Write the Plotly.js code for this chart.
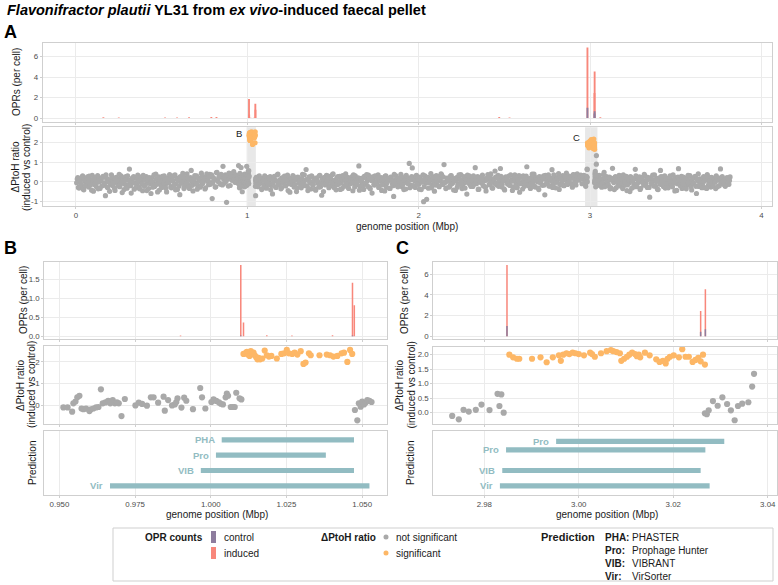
<!DOCTYPE html>
<html><head><meta charset="utf-8">
<script src="https://cdn.plot.ly/plotly-3.0.1.min.js"></script>
<style>html,body{margin:0;padding:0;background:#fff}#chart{width:778px;height:585px}</style>
</head><body><div id="chart"></div>
<script>
// ---------------- DATA ----------------
const oprPos = [0.16,0.25,0.52,0.59,0.66,0.79,0.82,0.99,1.0099,1.0108,1.0185,1.0268,1.0402,1.0468,1.0474,2.47,2.53,2.9848,3.0258,3.0268,3.06];
const oprInduced = [0.08,0.06,0.07,0.05,0.08,0.12,0.1,0.02,1.876,0.36,0.03,0.02,0.03,1.41,0.82,0.1,0.07,6.9,2.45,4.55,0.08];
const oprControl = [0,0,0,0,0,0,0,0,0.02,0,0,0,0,0.02,0,0,0,1.0,0.45,0.68,0];

const ptohStep = 0.007;
const ptohA1_start = 0.004, ptohA2_start = 1.056, ptohA3_start = 3.04;
const ptohA1b_start = 0.0075, ptohA2b_start = 1.0595, ptohA3b_start = 3.0435;
const ptohA1 = [-.05,.21,-.32,.08,-.18,.3,-.41,.02,-.12,.25,
-.27,.11,-.06,.33,-.48,-.15,.19,-.02,-.36,.14,
.05,-.22,.28,-.09,-.71,.17,-.3,.07,-.14,.36,
-.19,.01,-.44,.23,-.08,.12,-.25,.31,-.55,.04,
-.11,.26,-.33,.09,.65,-.2,.15,-.04,-.38,.2,
-.13,.34,-.27,-.01,.18,-.46,.1,-.16,.27,-.07,
-.35,.13,-.6,.22,-.03,-.24,.39,-.12,.06,-.42,
.16,-.29,.03,.3,-.17,-.52,.11,-.05,.24,-.31,
.07,-.21,.35,-.1,-.39,.19,-.66,.12,-.02,.28,
-.23,.09,.41,-.14,-.34,.21,.02,-.47,.15,-.06,
.31,-.18,.08,-.28,.44,-.09,.17,-.37,.26,.05,
-.15,.38,-.04,-.86,.22,.12,-.26,.48,.01,.33,
-.12,.27,.79,-.08,.36,-1.05,.14,.45,-.19,.3,
.09,.52,-.03,.24,.18,.83];
const ptohA1b = [.14,-.29,.06,-.11,.24,-.37,.1,-.2,.17,-.04,
.29,-.16,-.43,.07,.2,-.09,-.26,.32,-.01,-.34,
.11,.23,-.18,-.05,.35,-.27,.02,-.49,.13,.26,
-.07,-.32,.18,.04,-.21,.38,-.13,-.01,.22,-.4,
.09,-.24,.31,-.15,.03,-.58,.19,.27,-.06,-.3,
.15,.05,-.36,.24,-.12,.33,-.23,.08,-.45,.12,
.21,-.1,.01,-.28,.36,-.17,.14,-.52,.25,-.03,
-.19,.28,-.08,.11,-.33,.2,-.02,.37,-.25,.06,
.3,-.14,-.41,.16,.04,-.22,.27,-.07,.43,-.35,
.13,-.05,.23,-.29,.1,.58,-.18,.03,.32,-.11,
-.38,.19,.07,-.2,.29,-.02,.16,-.31,.4,.09,
.24,-.13,.35,-.06,.12,-.27,.47,.05,.21,-.09,
.38,-.16,.14,.26,.02,.31,-.22,.19,.42,.08,
.27,.15,.36,-.04,.22];
const ptohA2 = [.12,-.25,.3,-.08,-.4,.18,-.15,.05,-.33,.22,
-.02,.27,-.19,-.62,.14,.08,-.29,.35,-.11,.01,
-.36,.2,-.06,.29,-.21,.11,-.45,.16,.03,-.14,
.32,-.27,.09,-.5,.24,-.07,.13,-.31,.38,-.18,
.06,.63,-.23,.15,-.04,-.37,.26,-.12,.1,-.43,
.19,-.08,.31,-.26,-.69,.04,.21,-.16,.33,-.01,
-.3,.12,-.2,.37,-.09,.07,-.41,.23,-.13,.28,
-.05,-.35,.17,-.22,.4,.02,-.28,.14,-.1,.25,
-.46,.09,.3,-.15,.02,.81,-.24,.18,-.07,-.39,
.22,-.12,.05,.34,-.3,.13,-.58,.1,-.17,.27,
-.03,.36,-.21,.08,-.44,.19,-.09,.29,-.27,.04,
.16,-.34,.23,-.11,-.75,.07,.31,-.19,.12,-.05,
.38,-.26,.03,.2,-.37,.15,-.08,.94,-.16,.26,
-.22,.11,-.29,.33,.01,-.13,.24,-.4,.09,-1.02,
.3,-.06,.17,-.33,.05,.42,-.18,.14,-.48,.21,
-.1,.28,-.25,.06,.35,-.14,.88,-.02,-.31,.18,
.1,-.2,.32,-.07,-.42,.16,.04,-.28,.25,-.12,
.37,-.35,.13,-.05,.22,-.63,.08,.3,-.17,.02,
-.24,.19,.72,-.1,.27,-.38,.11,-.04,.34,-.21,
.06,-.47,.2,.15,-.13,.4,-.3,.09,-.08,.24,
-.16,.33,-.02,.68,-.26,.12,-.36,.21,.03,-.11,
.29,-.19,.07,-.44,.18,.36,-.07,-.29,.14,-.53,
.25,-.03,.31,-.23,.1,.77,-.15,.05,-.34,.2,
-.09,.39,-.27,.13,-.01,-.4,.23,.08,-.18,.3,
-.67,.12,-.06,.35,-.22,.17,.62,-.12,.26,-.31,
.04,.21,-.39,.15,-.05,.32,-.2,.1,.45,-.14,
.28,-.08,.19,-.28,.37,.06,-.16,.41,.13,.22,
.34,-.1,.18,.29];
const ptohA2b = [-.18,.26,-.04,.13,-.35,.09,.31,-.22,.02,-.13,
.2,-.41,.15,-.07,.28,-.26,.05,.39,-.16,.11,
-.3,-.02,.24,-.19,.07,.34,-.1,-.53,.18,.01,
.27,-.14,.1,-.32,.21,.04,-.24,.16,-.06,.36,
-.2,.12,-.45,.25,-.01,.3,-.17,.08,-.37,.19,
.03,-.28,.33,-.09,.14,-.5,.22,-.12,.06,.29,
-.23,.17,-.04,.4,-.3,.1,-.15,.26,.01,-.39,
.13,.32,-.21,.05,-.11,.23,-.34,.18,.09,-.06,
.35,-.27,.11,-.02,.2,-.43,.15,.03,-.18,.28,
-.08,.37,-.24,.14,-.36,.07,.25,-.13,.31,-.01,
.19,-.29,.04,.22,-.16,.1,-.47,.3,-.05,.16,
-.33,.24,.06,-.2,.38,-.1,.13,-.26,.02,.21,
.27,-.15,-.4,.09,.33,-.07,.18,-.3,.12,.71,
-.19,.05,.29,-.12,.2,-.38,.08,-.02,.35,-.25,
.14,-.9,.23,-.06,.11,-.31,.27,.01,-.17,.32,
.07,-.22,.16,.4,-.13,.24,-.04,-.35,.19,.03,
-.27,.3,-.09,.15,.05,-.44,.21,-.14,.36,.1,
.02,-.2,.26,-.32,.12,.34,-.07,.18,-.24,.08,
.31,-.11,.04,.2,-.39,.16,-.03,.27,-.18,.13,
-.28,.09,.37,-.15,.23,.01,-.33,.14,.55,-.05,
.19,-.23,.1,.28,-.12,.06,-.42,.25,.17,-.08,
-.16,.35,.03,-.26,.21,.12,-.3,.08,.32,-.1,
.24,-.37,.15,-.04,.29,.09,-.2,.18,-.13,.39,
.05,-.24,.22,.11,-.32,.27,-.06,.14,.2,-.17,
.33,-.08,.26,-.21,.13,.04,-.29,.35,.1,-.03,
.18,.42,-.14,.22,.07,-.19,.28,.15,-.06,.31,
.12,.25,-.1,.36,.2,-.02,.17,.3,.08,.24,
.21,.14,.33,.09];
const ptohA3 = [.21,-.15,.33,.05,-.28,.14,.48,-.09,.26,-.2,
.08,-.36,.17,.69,-.04,.23,-.31,.11,-.13,.3,
-.22,.02,.35,-.18,.12,-.45,.19,-.06,.27,-.33,
.07,-.12,.64,-.25,.15,-.02,-.39,.22,.1,-.17,
.31,-.07,-.29,.13,-.79,.2,-.11,.04,.36,-.23,
.16,-.4,.09,.58,-.14,.25,-.03,-.32,.18,-.08,
-.19,.3,.06,-.26,.12,-.47,.21,-.1,.67,-.02,
.14,-.34,.24,-.05,-.21,.11,.33,-.16,.04,-.42,
.19,-.09,.28,-.6,.07,-.24,.15,.02,-.13,.26,
-.3,.1,.37,-.18,.05,-.27,.2,-.06,.13,-.35,
.22,.09,-.2,.66,.14,-.11,.03,-.23,.17,.08,
-.12,.25];
const ptohA3b = [.03,.29,-.19,.12,-.06,.37,-.25,.18,.01,-.14,
.24,-.3,.09,.16,-.4,.27,.05,-.21,.33,-.08,
.13,-.35,.2,-.02,.28,-.16,.1,-.5,.22,.04,
-.27,.17,.31,-.11,.06,.25,-.33,.14,-.04,.38,
-.18,.08,.23,-.29,.15,-.07,.34,-.22,.11,.02,
-.38,.19,-.12,.26,.07,-.24,.3,-.09,.16,-.31,
.21,.01,-.17,.35,-.05,.12,-.44,.24,.09,-.2,
.28,-.13,.05,.18,-.36,.22,-.01,.32,-.26,.1,
-.07,.25,-.23,.14,.4,-.15,.06,-.3,.2,.03,
.17,-.34,.27,-.1,.08,.23,-.19,.13,-.02,.3,
-.25,.11,.19,-.06,.26,.04,-.16,.15,.21,-.12,
.07];

const bGrayX = [0.9513,0.9527,0.9542,0.9546,0.9553,0.9559,0.9566,0.9573,0.9579,0.9588,0.9599,0.9604,0.9612,0.9621,0.9629,0.9637,0.9643,0.9652,0.9661,0.9668,0.9676,0.9683,0.9690,0.9696,0.9705,0.9716,0.9751,0.9762,0.9773,0.9789,0.9802,0.9811,0.9826,0.9844,0.9848,0.9859,0.9872,0.9881,0.9886,0.9890,0.9903,0.9912,0.9919,0.9941,0.9965,0.9971,0.9982,1.0002,1.0009,1.0018,1.0027,1.0033,1.0040,1.0049,1.0053,1.0057,1.0066,1.0073,1.0079,1.0084,1.0095,1.0101,1.0476,1.0484,1.0489,1.0495,1.0500,1.0506,1.0511,1.0517,1.0524,1.0531];
const bGrayY = [-0.11,-0.11,-0.31,0.08,0.16,0.36,0.43,-0.16,-0.19,-0.17,-0.28,-0.2,-0.16,-0.11,-0.09,0.73,0.08,0.12,0.2,0.08,0.23,0.08,0.12,0.08,-0.51,0.28,-0.02,0.11,0.05,-0.03,0.36,0.36,0.11,0.39,-0.26,0.23,-0.02,0.03,0.14,0.31,-0.12,0.34,0.2,-0.19,0.79,0.36,-0.16,0.14,0.26,0.19,0.12,0.06,0.03,0.36,0.53,0.43,-0.09,-0.09,-0.09,0.57,0.31,0.26,-0.23,-0.71,0.08,-0.08,0.16,0.03,0.11,0.23,0.19,0.14];
const bSigX = [1.0108,1.0114,1.0119,1.0123,1.0128,1.0132,1.0137,1.0141,1.0145,1.0150,1.0154,1.0158,1.0163,1.0170,1.0178,1.0185,1.0192,1.0200,1.0218,1.0233,1.0242,1.0251,1.0258,1.0269,1.0277,1.0286,1.0297,1.0306,1.0313,1.0324,1.0330,1.0359,1.0383,1.0394,1.0405,1.0418,1.0432,1.0440,1.0451,1.0460,1.0467];
const bSigY = [2.37,2.40,2.47,2.34,2.28,2.5,2.4,2.43,2.31,2.22,2.12,2.19,2.12,2.16,2.53,2.31,2.25,2.28,2.16,2.37,2.4,2.56,2.4,2.37,2.43,2.34,2.5,1.91,1.97,2.4,2.31,2.31,2.34,2.31,2.25,2.28,2.4,2.43,2.0,2.56,2.37];

const cGrayX = [2.9732,2.9746,2.9756,2.9767,2.9782,2.9794,2.9811,2.9828,2.9832,2.9836,2.9841,3.0267,3.0271,3.0275,3.0284,3.0294,3.0304,3.0314,3.0322,3.0330,3.0337,3.0346,3.0359,3.0367,3.0371];
const cGrayY = [-0.11,-0.23,0.1,0.04,0.1,0.28,0.09,0.65,0.23,0.63,0.0,-0.02,-0.05,0.08,0.4,0.24,0.53,0.3,0.08,-0.26,0.23,0.31,0.36,0.9,1.34];
const cSigX = [2.9853,2.9861,2.9869,2.9874,2.9901,2.9919,2.9932,2.9945,2.9958,2.9962,2.9967,2.9974,2.9980,2.9987,2.9993,3.0000,3.0011,3.0024,3.0028,3.0034,3.0047,3.0059,3.0068,3.0073,3.0080,3.0087,3.0090,3.0096,3.0102,3.0107,3.0113,3.0119,3.0123,3.0127,3.0130,3.0140,3.0150,3.0164,3.0171,3.0178,3.0184,3.0188,3.0193,3.0201,3.0212,3.0219,3.0226,3.0233,3.0241,3.0247,3.0253,3.0258,3.0263,3.0267];
const cSigY = [2.0,1.91,1.86,1.86,1.86,1.91,1.74,1.91,1.98,1.79,2.0,2.05,2.02,2.07,2.05,2.02,1.98,2.07,2.02,1.93,2.05,2.12,2.16,2.12,2.09,2.05,1.79,1.86,1.93,2.0,2.07,2.02,1.95,2.0,1.91,2.07,1.98,1.84,1.75,1.79,1.7,1.86,1.93,1.98,1.91,2.19,1.93,1.93,1.75,1.82,1.89,1.77,2.0,1.66];

const regionLabel = ['B','C'];
const regionStart = [0.996, 2.971];
const regionEnd = [1.05, 3.043];

const predLabelsB = ['PHA','Pro','VIB','Vir'];
const predRowB = [4,3,2,1];
const predStartB = [1.0036,1.0017,0.9967,0.9667];
const predEndB = [1.0473,1.0380,1.0473,1.0524];
const predLabelsC = ['Pro','Pro','VIB','Vir'];
const predRowC = [3.9,3.35,2,1];
const predStartC = [2.9952,2.9846,2.9838,2.9833];
const predEndC = [3.0308,3.0268,3.0258,3.0277];

const predKeys = ['PHA:','Pro:','VIB:','Vir:'];
const predNames = ['PHASTER','Prophage Hunter','VIBRANT','VirSorter'];

// ---------------- STYLE / LAYOUT ----------------
const W = 778, H = 585;
const FONT = 'Liberation Sans, Arial, Helvetica, sans-serif';
const COL_IND = '#f8877b', COL_CTL = '#8e7d9e', COL_NS = '#a9a9a9', COL_SIG = '#fdb766', COL_PRED = '#92bcc2';
const P = x => x / W, Q = y => 1 - y / H;
const dX = (a, b) => [a / W, b / W];
const dY = (t, b) => [1 - b / H, 1 - t / H];

function ax(extra) {
  return Object.assign({
    showline: true, mirror: true, linecolor: '#cfcfcf', linewidth: 1,
    showgrid: true, gridcolor: '#ebebeb', gridwidth: 1, zeroline: false,
    ticks: 'outside', ticklen: 2, tickcolor: '#cfcfcf', tickwidth: 1,
    tickfont: {size: 7.9, color: '#4d4d4d', family: FONT}, fixedrange: true
  }, extra);
}

const traces = [];
function oprTraces(xa, ya, w) {
  traces.push({type: 'bar', x: oprPos, y: oprInduced, width: w, marker: {color: COL_IND, line: {width: 0}}, xaxis: xa, yaxis: ya, showlegend: false, hoverinfo: 'skip'});
  traces.push({type: 'bar', x: oprPos, y: oprControl, width: w, marker: {color: COL_CTL, line: {width: 0}}, xaxis: xa, yaxis: ya, showlegend: false, hoverinfo: 'skip'});
}
function pts(x, y, col, sz, xa, ya) {
  traces.push({type: 'scatter', mode: 'markers', x: x, y: y, marker: {color: col, size: sz, line: {width: 0}}, xaxis: xa, yaxis: ya, showlegend: false, hoverinfo: 'skip'});
}
function seg(y, x0, col, sz, xa, ya) {
  traces.push({type: 'scatter', mode: 'markers', y: y, x0: x0, dx: ptohStep, marker: {color: col, size: sz, line: {width: 0}}, xaxis: xa, yaxis: ya, showlegend: false, hoverinfo: 'skip'});
}

const SA = 5.2, SB = 6.2;
oprTraces('x', 'y', 0.011);
seg(ptohA1, ptohA1_start, COL_NS, SA, 'x2', 'y2');
seg(ptohA1b, ptohA1b_start, COL_NS, SA, 'x2', 'y2');
seg(ptohA2, ptohA2_start, COL_NS, SA, 'x2', 'y2');
seg(ptohA2b, ptohA2b_start, COL_NS, SA, 'x2', 'y2');
seg(ptohA3, ptohA3_start, COL_NS, SA, 'x2', 'y2');
seg(ptohA3b, ptohA3b_start, COL_NS, SA, 'x2', 'y2');
pts(bGrayX, bGrayY, COL_NS, SA, 'x2', 'y2');
pts(cGrayX, cGrayY, COL_NS, SA, 'x2', 'y2');
pts(bSigX, bSigY, COL_SIG, SA, 'x2', 'y2');
pts(cSigX, cSigY, COL_SIG, SA, 'x2', 'y2');
oprTraces('x3', 'y3', 0.0005);
pts(bGrayX, bGrayY, COL_NS, SB, 'x4', 'y4');
pts(bSigX, bSigY, COL_SIG, SB, 'x4', 'y4');
traces.push({type: 'bar', orientation: 'h', y: predRowB, base: predStartB, x: predEndB.map((e, i) => e - predStartB[i]), width: 0.34, marker: {color: COL_PRED, line: {width: 0}}, xaxis: 'x5', yaxis: 'y5', showlegend: false, hoverinfo: 'skip'});
oprTraces('x6', 'y6', 0.00032);
pts(cGrayX, cGrayY, COL_NS, SB, 'x7', 'y7');
pts(cSigX, cSigY, COL_SIG, SB, 'x7', 'y7');
traces.push({type: 'bar', orientation: 'h', y: predRowC, base: predStartC, x: predEndC.map((e, i) => e - predStartC[i]), width: 0.34, marker: {color: COL_PRED, line: {width: 0}}, xaxis: 'x8', yaxis: 'y8', showlegend: false, hoverinfo: 'skip'});

const AX = dX(42.7, 771.7), BX = dX(44.3, 386.7), CX = dX(433.3, 776.7);
const rA = [-0.194, 4.06], rB = [0.945, 1.0581], rC = [2.9692, 3.0419];
const tA = [0, 1, 2, 3, 4], tB = [0.95, 0.975, 1.0, 1.025, 1.05], tC = [2.98, 3.0, 3.02, 3.04];

const layout = {
  width: W, height: H, margin: {l: 0, r: 0, t: 0, b: 0},
  paper_bgcolor: '#fff', plot_bgcolor: 'rgba(0,0,0,0)', barmode: 'overlay', showlegend: false,
  font: {family: FONT, color: '#1a1a1a'},
  title: {text: '<b><i>Flavonifractor plautii</i> YL31 from <i>ex vivo</i>-induced faecal pellet</b>',
          xref: 'paper', x: P(7), xanchor: 'left', yref: 'container', y: Q(10), yanchor: 'middle',
          font: {size: 14.5, family: FONT, color: '#000'}},
  xaxis:  ax({domain: AX, range: rA, anchor: 'y', tickvals: tA, showticklabels: false}),
  yaxis:  ax({domain: dY(43.3, 121.7), range: [-0.35, 7.3], anchor: 'x', tickvals: [0, 2, 4, 6]}),
  xaxis2: ax({domain: AX, range: rA, anchor: 'y2', tickvals: tA}),
  yaxis2: ax({domain: dY(127.3, 206), range: [-1.24, 2.79], anchor: 'x2', tickvals: [-1, 0, 1, 2], ticktext: ['-1', '0', '1', '2']}),
  xaxis3: ax({domain: BX, range: rB, anchor: 'y3', tickvals: tB, showticklabels: false}),
  yaxis3: ax({domain: dY(261.7, 339.3), range: [-0.079, 1.963], anchor: 'x3', tickvals: [0, 0.5, 1, 1.5], ticktext: ['0.0', '0.5', '1.0', '1.5']}),
  xaxis4: ax({domain: BX, range: rB, anchor: 'y4', tickvals: tB, showticklabels: false}),
  yaxis4: ax({domain: dY(346, 424), range: [-0.88, 2.74], anchor: 'x4', tickvals: [0, 1, 2]}),
  xaxis5: ax({domain: BX, range: rB, anchor: 'y5', tickvals: tB, ticktext: ['0.950', '0.975', '1.000', '1.025', '1.050']}),
  yaxis5: ax({domain: dY(430.7, 495), range: [0.4, 4.6], anchor: 'x5', showticklabels: false, showgrid: false, ticks: ''}),
  xaxis6: ax({domain: CX, range: rC, anchor: 'y6', tickvals: tC, showticklabels: false}),
  yaxis6: ax({domain: dY(261.7, 339.3), range: [-0.29, 7.22], anchor: 'x6', tickvals: [0, 2, 4, 6]}),
  xaxis7: ax({domain: CX, range: rC, anchor: 'y7', tickvals: tC, showticklabels: false}),
  yaxis7: ax({domain: dY(346.7, 424), range: [-0.39, 2.276], anchor: 'x7', tickvals: [0, 0.5, 1, 1.5, 2], ticktext: ['0.0', '0.5', '1.0', '1.5', '2.0']}),
  xaxis8: ax({domain: CX, range: rC, anchor: 'y8', tickvals: tC, ticktext: ['2.98', '3.00', '3.02', '3.04']}),
  yaxis8: ax({domain: dY(430.7, 495), range: [0.4, 4.6], anchor: 'x8', showticklabels: false, showgrid: false, ticks: ''}),
  shapes: [], annotations: []
};

regionStart.forEach((s, i) => {
  layout.shapes.push({type: 'rect', xref: 'x2', yref: 'paper', x0: s, x1: regionEnd[i], y0: Q(206), y1: Q(127.3),
    fillcolor: 'rgba(190,190,190,0.35)', line: {width: 0}, layer: 'below'});
  layout.annotations.push({xref: 'x2', yref: 'y2', x: s, y: i === 0 ? 2.45 : 2.25, text: regionLabel[i],
    xanchor: 'right', yanchor: 'middle', xshift: -3, showarrow: false, font: {size: 9.5, color: '#1a1a1a'}});
});

function predLabels(labels, rows, starts, xa, ya) {
  labels.forEach((t, i) => layout.annotations.push({xref: xa, yref: ya, x: starts[i], y: rows[i], text: '<b>' + t + '</b>',
    xanchor: 'right', yanchor: 'middle', xshift: -5, showarrow: false, font: {size: 9.5, color: COL_PRED}}));
}
predLabels(predLabelsB, predRowB, predStartB, 'x5', 'y5');
predLabels(predLabelsC, predRowC, predStartC, 'x8', 'y8');

function txt(x, y, text, o) {
  layout.annotations.push(Object.assign({xref: 'paper', yref: 'paper', x: P(x), y: Q(y), text: text, showarrow: false,
    xanchor: 'center', yanchor: 'middle', font: {size: 10, color: '#1a1a1a', family: FONT}}, o || {}));
}
txt(2, 32, '<b>A</b>', {xanchor: 'left', font: {size: 18, color: '#000', family: FONT}});
txt(2, 248, '<b>B</b>', {xanchor: 'left', font: {size: 18, color: '#000', family: FONT}});
txt(394, 248, '<b>C</b>', {xanchor: 'left', font: {size: 18, color: '#000', family: FONT}});
const R = {textangle: -90};
txt(17, 82, 'OPRs (per cell)', R);
txt(14.5, 167, 'ΔPtoH ratio', R);
txt(26, 167, '(induced vs control)', R);
txt(407, 226.5, 'genome position (Mbp)');
txt(23, 300, 'OPRs (per cell)', R);
txt(20, 385, 'ΔPtoH ratio', R);
txt(31, 385, '(induced vs control)', R);
txt(32, 463, 'Prediction', R);
txt(216.7, 514.5, 'genome position (Mbp)');
txt(404, 300, 'OPRs (per cell)', R);
txt(399, 385, 'ΔPtoH ratio', R);
txt(410.5, 385, '(induced vs control)', R);
txt(410, 463, 'Prediction', R);
txt(606.7, 514.5, 'genome position (Mbp)');

layout.shapes.push({type: 'rect', xref: 'paper', yref: 'paper', x0: P(113), x1: P(773), y0: Q(581), y1: Q(528), line: {color: '#cfcfcf', width: 1}, fillcolor: 'rgba(0,0,0,0)'});
const LF = {size: 10, color: '#1a1a1a', family: FONT};
txt(205, 537, '<b>OPR counts</b>', {xanchor: 'right', font: LF});
layout.shapes.push({type: 'rect', xref: 'paper', yref: 'paper', x0: P(211), x1: P(216), y0: Q(543), y1: Q(531), fillcolor: COL_CTL, line: {width: 0}});
layout.shapes.push({type: 'rect', xref: 'paper', yref: 'paper', x0: P(211), x1: P(216), y0: Q(559), y1: Q(547), fillcolor: COL_IND, line: {width: 0}});
txt(222, 537, 'control', {xanchor: 'left', font: LF});
txt(222, 553, 'induced', {xanchor: 'left', font: LF});
txt(378, 537, '<b>ΔPtoH ratio</b>', {xanchor: 'right', font: LF});
layout.shapes.push({type: 'circle', xref: 'paper', yref: 'paper', x0: P(383.5), x1: P(388.5), y0: Q(539.5), y1: Q(534.5), fillcolor: COL_NS, line: {width: 0}});
layout.shapes.push({type: 'circle', xref: 'paper', yref: 'paper', x0: P(383.5), x1: P(388.5), y0: Q(555.5), y1: Q(550.5), fillcolor: COL_SIG, line: {width: 0}});
txt(394, 537, 'not significant', {xanchor: 'left', font: LF});
txt(394, 553, 'significant', {xanchor: 'left', font: LF});
txt(597, 537, '<b>Prediction</b>', {xanchor: 'right', font: {size: 11, color: '#1a1a1a', family: FONT}});
predKeys.forEach((k, i) => {
  txt(603, 537 + i * 13, '<b>' + k + '</b>', {xanchor: 'left', font: LF});
  txt(630, 537 + i * 13, predNames[i], {xanchor: 'left', font: LF});
});

Plotly.newPlot('chart', traces, layout, {displayModeBar: false, staticPlot: true});
</script>
</body></html>
